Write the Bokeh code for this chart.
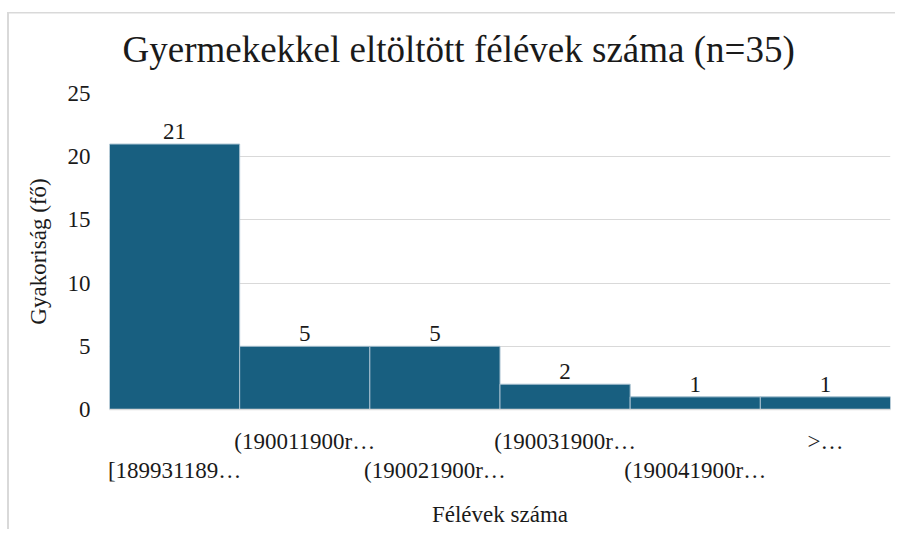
from bokeh.plotting import figure
from bokeh.models import (ColumnDataSource, Range1d, LinearAxis, LabelSet, FixedTicker)
from bokeh.embed import file_html
from bokeh.resources import INLINE

# ---- data ----
bins = ["[189931189…", "(190011900r…", "(190021900r…", "(190031900r…",
        "(190041900r…", ">…"]
counts = [21, 5, 5, 2, 1, 1]
y_ticks = [0, 5, 10, 15, 20, 25]

title_text = "Gyermekekkel eltöltött félévek száma (n=35)"
x_title = "Félévek száma"
y_title = "Gyakoriság (fő)"

FONT = "Liberation Serif"
FS = "23px"
BAR = "#185f80"
TXT = "#1a1a1a"
GRID = "#d9d9d9"

pos = [i + 0.5 for i in range(len(bins))]
src = ColumnDataSource(dict(x=pos, count=counts, label=[str(c) for c in counts]))

p = figure(width=895, height=529, x_range=Range1d(0, len(bins)),
           y_range=Range1d(0, 25), output_backend="svg", toolbar_location=None,
           min_border_left=109, min_border_right=5, min_border_top=93,
           min_border_bottom=120, x_axis_location=None)
p.outline_line_color = None
p.border_fill_color = None
p.background_fill_color = "white"
# light chart-area border (left and top edges)
p.styles = {"background": (
    "linear-gradient(#d9d9d9,#d9d9d9) 7px 12px / 2px 100% no-repeat, "
    "linear-gradient(#d9d9d9,#d9d9d9) 7px 12px / 100% 1.5px no-repeat, white")}

p.title.text = title_text
p.title.text_font = FONT
p.title.text_font_size = "37px"
p.title.text_font_style = "normal"
p.title.text_color = TXT
p.title.align = "left"
p.title.offset = 13
p.title.standoff = 47

p.vbar(x="x", top="count", width=1.0, source=src, fill_color=BAR,
       line_color="#a7c0cf", line_width=1)

labels = LabelSet(x="x", y="count", text="label", source=src, y_offset=5,
                  text_align="center", text_baseline="bottom",
                  text_font=FONT, text_font_size=FS, text_color=TXT)
p.add_layout(labels)

# y axis
ya = p.yaxis[0]
ya.ticker = FixedTicker(ticks=y_ticks)
ya.axis_line_color = None
ya.major_tick_line_color = None
ya.minor_tick_line_color = None
ya.major_label_text_font = FONT
ya.major_label_text_font_size = FS
ya.major_label_text_color = TXT
ya.major_label_standoff = 13
ya.axis_label = y_title
ya.axis_label_text_font = FONT
ya.axis_label_text_font_size = FS
ya.axis_label_text_font_style = "normal"
ya.axis_label_text_color = TXT
ya.axis_label_standoff = 14

p.ygrid.grid_line_color = GRID
p.ygrid.ticker = FixedTicker(ticks=y_ticks)
p.xgrid.grid_line_color = None

# x axes (staggered labels)
row1 = {pos[i]: (bins[i] if i % 2 == 1 else "") for i in range(len(bins))}
row2 = {pos[i]: (bins[i] if i % 2 == 0 else "") for i in range(len(bins))}

ax1 = LinearAxis(ticker=FixedTicker(ticks=pos), major_label_overrides=row1)
ax1.axis_line_color = GRID
ax1.axis_line_width = 1.5
ax1.major_tick_line_color = None
ax1.minor_tick_line_color = None
ax1.major_label_text_font = FONT
ax1.major_label_text_font_size = FS
ax1.major_label_text_color = TXT
ax1.major_label_standoff = 13
p.add_layout(ax1, "below")

ax2 = LinearAxis(ticker=FixedTicker(ticks=pos), major_label_overrides=row2)
ax2.axis_line_color = None
ax2.major_tick_line_color = None
ax2.minor_tick_line_color = None
ax2.major_label_text_font = FONT
ax2.major_label_text_font_size = FS
ax2.major_label_text_color = TXT
ax2.major_label_standoff = -5
ax2.axis_label = x_title
ax2.axis_label_text_font = FONT
ax2.axis_label_text_font_size = FS
ax2.axis_label_text_font_style = "normal"
ax2.axis_label_text_color = TXT
ax2.axis_label_standoff = 16
p.add_layout(ax2, "below")

open("out.html", "w").write(file_html(p, INLINE))
